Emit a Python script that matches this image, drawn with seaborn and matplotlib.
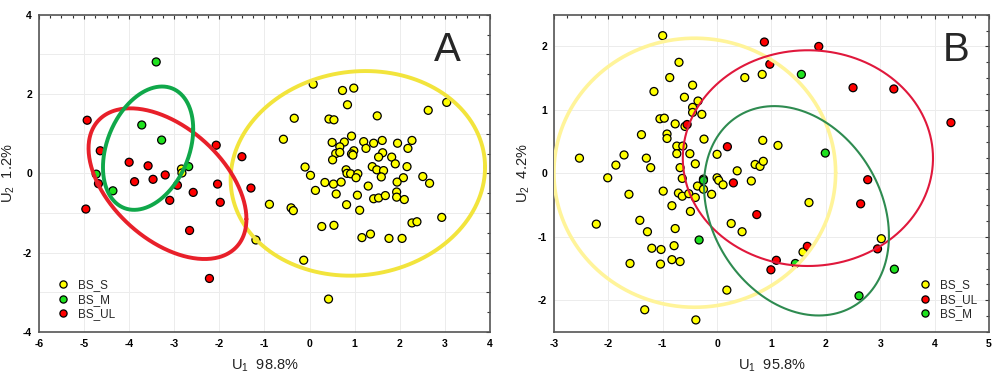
import numpy as np
import pandas as pd
import seaborn as sns
import matplotlib.pyplot as plt
from matplotlib.ticker import MultipleLocator, FuncFormatter

# panel A scores (U1, U2)
a_s_x = [-2.84, -2.83, -1.19, -0.89, 0.08, 0.73, 0.98, 0.84, -0.34, 0.43, 0.54, 1.50, 2.63, 3.04,
         -0.58, 0.50, 0.77, 0.93, 0.67, 0.58, 0.67, 0.51, 0.98, 0.93, 0.96, 1.20, 1.25, 1.42, 1.61,
         1.62, 1.53, 1.82, 1.95, 2.18, 2.27, 1.90, 2.16, -0.10, 0.02, 0.81, 0.83, 0.91, 1.07, 1.03,
         1.39, 1.49, 1.64, 1.59, 2.08, 2.51, 2.66, 1.94, 0.34, 0.53, 0.70, 0.13, 0.59, 1.06, 1.30,
         0.82, 1.11, 1.42, 1.53, 1.68, 1.93, 1.93, 2.10, -0.41, -0.36, 0.27, 0.54, 1.16, 1.35, 1.76,
         2.05, 2.27, 2.38, 2.93, -0.13, 0.42]
a_s_y = [0.11, 0.01, -1.68, -0.78, 2.25, 2.09, 2.15, 1.73, 1.39, 1.37, 1.35, 1.45, 1.59, 1.79,
         0.86, 0.78, 0.79, 0.94, 0.67, 0.50, 0.53, 0.34, 0.57, 0.49, 0.46, 0.80, 0.63, 0.76, 0.83,
         0.52, 0.41, 0.41, 0.76, 0.63, 0.83, 0.24, 0.17, 0.16, -0.05, 0.09, 0.00, -0.01, -0.01, -0.11,
         0.17, 0.09, 0.07, -0.09, -0.11, -0.08, -0.25, -0.22, -0.23, -0.27, -0.22, -0.43, -0.52, -0.55, -0.32,
         -0.79, -0.93, -0.64, -0.62, -0.56, -0.47, -0.60, -0.66, -0.87, -0.94, -1.34, -1.31, -1.62, -1.53, -1.64,
         -1.64, -1.25, -1.22, -1.11, -2.19, -3.17]
a_m_x = [-3.40, -3.72, -3.28, -4.73, -4.36, -2.68]
a_m_y = [2.81, 1.22, 0.84, -0.02, -0.44, 0.17]
a_ul_x = [-4.93, -4.64, -4.68, -4.96, -4.00, -3.58, -3.88, -3.47, -3.20, -2.93, -3.10, -2.58,
          -2.07, -2.04, -1.98, -2.66, -2.22, -1.50, -1.30]
a_ul_y = [1.34, 0.57, -0.26, -0.90, 0.28, 0.19, -0.21, -0.15, -0.04, -0.30, -0.68, -0.48,
          0.71, -0.27, -0.73, -1.44, -2.65, 0.42, -0.37]

# panel B scores
b_s_x = [-1.00, -0.70, -0.87, -0.45, -1.16, -0.60, -0.35, -0.45, -0.45, -0.28, -1.05, -0.97, -0.77,
         -0.59, -0.92, -0.92, -1.39, -0.24, -0.74, -0.63, -0.74, -0.50, 0.00, -1.71, -2.53, -1.30,
         -1.86, -1.22, -0.68, -0.40, -2.01, -0.64, -0.25, 0.00, 0.03, 0.11, 0.37, 0.63, 0.70, 0.79,
         0.85, 0.84, -0.36, -0.25, -0.10, -0.99, -0.71, -0.64, -0.52, -0.40, -0.83, -0.49, -1.62,
         -1.42, -1.28, -2.22, -0.77, 0.26, 0.46, -1.20, -1.03, -0.79, -0.83, -0.68, -1.60, -1.04,
         0.18, -1.33, -0.39, 0.51, 0.83, 1.12, 1.69, 1.58, 3.02]
b_s_y = [2.17, 1.75, 1.51, 1.39, 1.29, 1.20, 1.14, 1.04, 0.96, 0.93, 0.86, 0.87, 0.78,
         0.74, 0.62, 0.55, 0.61, 0.54, 0.43, 0.43, 0.31, 0.31, 0.30, 0.29, 0.24, 0.24,
         0.13, 0.09, 0.09, 0.15, -0.07, -0.08, -0.09, -0.07, -0.11, -0.18, 0.04, -0.12, 0.14, 0.11,
         0.19, 0.52, -0.20, -0.25, -0.33, -0.28, -0.31, -0.36, -0.32, -0.38, -0.51, -0.60, -0.33,
         -0.74, -0.92, -0.80, -0.87, -0.79, -0.92, -1.18, -1.20, -1.14, -1.36, -1.39, -1.42, -1.43,
         -1.84, -2.15, -2.31, 1.51, 1.56, 0.44, -0.46, -1.24, -1.03]
b_ul_x = [-0.55, 0.19, 0.30, 0.73, 0.87, 1.87, 0.97, 2.50, 3.25, 4.30, 2.77, 2.64, 1.66, 1.09, 0.99, 2.95]
b_ul_y = [0.77, 0.42, -0.15, -0.65, 2.07, 2.00, 1.72, 1.35, 1.33, 0.80, -0.10, -0.48, -1.15, -1.37, -1.52, -1.19]
b_m_x = [-0.25, -0.33, 1.55, 1.99, 1.44, 3.26, 2.61]
b_m_y = [-0.11, -1.05, 1.56, 0.32, -1.42, -1.51, -1.93]

# ellipses: centre x, centre y, half-range x, half-range y, correlation
ell_a = {"BS_S": (1.07, 0.0, 2.82, 2.58, 0.06),
         "BS_UL": (-3.15, -0.26, 1.75, 1.90, -0.47),
         "BS_M": (-3.58, 0.635, 1.0, 1.555, 0.31)}
ell_b = {"BS_S": (-0.41, 0.01, 2.59, 2.12, 0.0),
         "BS_UL": (1.67, 0.24, 2.30, 1.70, 0.0),
         "BS_M": (1.46, -0.59, 1.70, 1.65, -0.24)}

pts = {"BS_S": "#ffff00", "BS_M": "#1ee21e", "BS_UL": "#ff0000"}
ell_col_a = {"BS_S": "#f2e43c", "BS_UL": "#e8202a", "BS_M": "#10a84a"}
ell_col_b = {"BS_S": "#fff49a", "BS_UL": "#e0183c", "BS_M": "#2e8b50"}


def frame(groups):
    parts = [pd.DataFrame({"x": gx, "y": gy, "grp": name}) for name, gx, gy in groups]
    return pd.concat(parts, ignore_index=True)


df_a = frame([("BS_S", a_s_x, a_s_y), ("BS_M", a_m_x, a_m_y), ("BS_UL", a_ul_x, a_ul_y)])
df_b = frame([("BS_S", b_s_x, b_s_y), ("BS_UL", b_ul_x, b_ul_y), ("BS_M", b_m_x, b_m_y)])

sns.set_style("white")
plt.rcParams['font.family'] = ['Liberation Sans', 'DejaVu Sans']
plt.rcParams['mathtext.default'] = 'regular'
plt.rcParams['axes.unicode_minus'] = False

fig = plt.figure(figsize=(9.98, 3.75), dpi=100)
ax1 = fig.add_axes([0.039, 0.1147, 0.452, 0.846])
ax2 = fig.add_axes([0.555, 0.1147, 0.436, 0.846])

t = np.linspace(0, 2 * np.pi, 300)


def panel(ax, df, order, ells, ecols, lw, xlim, ylim, xlab, ylab, letter, letter_x, legloc, yfmt):
    sns.scatterplot(data=df, x="x", y="y", hue="grp", hue_order=order, palette=pts, ax=ax,
                    s=33, edgecolor="black", linewidth=0.9, zorder=3)
    for name, (cx, cy, a, b, r) in ells.items():
        ex = cx + a * np.cos(t)
        ey = cy + b * (r * np.cos(t) + np.sqrt(1 - r * r) * np.sin(t))
        ax.plot(ex, ey, color=ecols[name], lw=lw[name], zorder=4)
    ax.set_xlim(*xlim)
    ax.set_ylim(*ylim)
    ax.set_xlabel(xlab, fontsize=10.5, labelpad=6, color="#222222")
    ax.set_ylabel(ylab, fontsize=10.5, labelpad=4, color="#222222")
    ax.xaxis.set_major_locator(MultipleLocator(1))
    ax.yaxis.set_major_locator(MultipleLocator(1))
    ax.yaxis.set_major_formatter(yfmt)
    ax.xaxis.set_minor_locator(MultipleLocator(0.25))
    ax.yaxis.set_minor_locator(MultipleLocator(0.25 if ylim[1] < 3 else 0.5))
    ax.tick_params(which="both", direction="in", top=True, right=True, labelsize=7.5,
                   colors="#333333", labelcolor="black", width=0.8)
    ax.tick_params(which="major", length=3, pad=5)
    ax.tick_params(which="minor", length=2)
    for lb in ax.get_xticklabels() + ax.get_yticklabels():
        lb.set_fontweight("bold")
    ax.grid(True, which="major", color="#ececec", lw=0.7)
    for sp in ax.spines.values():
        sp.set_color("#555555")
        sp.set_linewidth(1.2)
    ax.text(letter_x, 0.95, letter, transform=ax.transAxes, ha="right", va="top", fontsize=29)
    sns.move_legend(ax, legloc, title=None, frameon=False, fontsize=8.5, handletextpad=0.3,
                    labelspacing=0.2, borderaxespad=0.6, markerscale=0.9)


even_only = FuncFormatter(lambda v, p: "%d" % v if round(v) % 2 == 0 else "")
plain = FuncFormatter(lambda v, p: "%d" % v)

panel(ax1, df_a, ["BS_S", "BS_M", "BS_UL"], ell_a, ell_col_a,
      {"BS_S": 2.8, "BS_UL": 2.8, "BS_M": 2.8}, (-6, 4), (-4, 4),
      "U$_{\\mathregular{1}}$  98.8%", "U$_{\\mathregular{2}}$  1.2%", "A", 0.935, "lower left", even_only)
panel(ax2, df_b, ["BS_S", "BS_UL", "BS_M"], ell_b, ell_col_b,
      {"BS_S": 2.6, "BS_UL": 1.5, "BS_M": 1.5}, (-3, 5), (-2.5, 2.5),
      "U$_{\\mathregular{1}}$  95.8%", "U$_{\\mathregular{2}}$  4.2%", "B", 0.955, "lower right", plain)

fig.savefig("out.png", dpi=100)
